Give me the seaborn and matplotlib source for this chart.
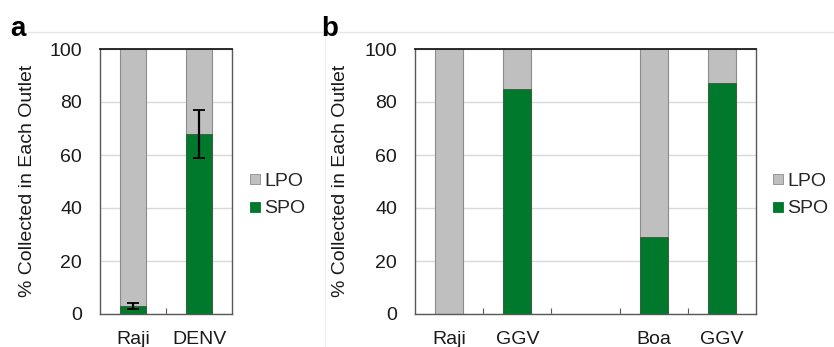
import matplotlib
matplotlib.use("Agg")
import matplotlib.pyplot as plt
import seaborn as sns
import pandas as pd
import numpy as np
from matplotlib.lines import Line2D
from matplotlib.ticker import FixedLocator

sns.set_theme(style="white")
plt.rcParams['font.family'] = ['Liberation Sans', 'DejaVu Sans']

# ---- data ----
a_labels = ["Raji", "DENV"]
a_spo = [3, 68]
a_spo_err = [1, 9]
a_lpo_total = [100, 100]

b_labels = ["Raji", "GGV", "", "Boa", "GGV"]
b_spo = [0, 85, np.nan, 29, 87]
b_lpo_total = [100, 100, np.nan, 100, 100]

GRAY = "#bfbfbf"
GREEN = "#00792c"
EDGE_G = "#8c8c8c"

fig = plt.figure(figsize=(8.34, 3.47), dpi=100)
W, H = 834, 347

def px_axes(l, t, r, b):
    return fig.add_axes([l / W, 1 - b / H, (r - l) / W, (b - t) / H])

ax_a = px_axes(100, 49, 232, 314)
ax_b = px_axes(415, 49, 756, 314)

def draw(ax, labels, spo, lpo, err=None, width=0.4):
    ids = [f"c{i}" for i in range(len(labels))]
    df = pd.DataFrame({"id": ids, "LPO": lpo, "SPO": spo})
    sns.barplot(data=df, x="id", y="LPO", order=ids, color=GRAY, width=width,
                edgecolor=EDGE_G, linewidth=0.8, ax=ax, saturation=1, zorder=2)
    sns.barplot(data=df, x="id", y="SPO", order=ids, color=GREEN, width=width,
                edgecolor="#3a5a3a", linewidth=0.6, ax=ax, saturation=1, zorder=3)
    if err is not None:
        ax.errorbar(np.arange(len(ids)), spo, yerr=err, fmt="none", ecolor="black",
                    elinewidth=1.6, capsize=4, capthick=1.3, zorder=4)
    ax.set_xlim(-0.5, len(ids) - 0.5)
    ax.set_ylim(0, 100)
    ax.set_yticks([0, 20, 40, 60, 80, 100])
    ax.yaxis.grid(True, color="#d9d9d9", linewidth=1.0, zorder=0)
    ax.set_axisbelow(True)
    ax.set_xticks(range(len(ids)))
    ax.set_xticklabels(labels)
    ax.xaxis.set_minor_locator(FixedLocator(np.arange(0.5, len(ids) - 0.5, 1)))
    ax.tick_params(axis="x", which="major", length=0, pad=12, labelsize=14, colors="#1a1a1a")
    ax.tick_params(axis="x", which="minor", length=4, direction="in", width=0.8,
                   color="#595959", bottom=True)
    ax.tick_params(axis="y", length=0, pad=13, labelsize=14, colors="#1a1a1a")
    for s in ax.spines.values():
        s.set_visible(True)
        s.set_color("#595959")
        s.set_linewidth(1.0)
    ax.spines["top"].set_color("#1a1a1a")
    ax.spines["top"].set_linewidth(1.3)
    ax.set_xlabel("")
    ax.set_ylabel("% Collected in Each Outlet", fontsize=14, color="#1a1a1a")
    handles = [
        Line2D([], [], marker="s", linestyle="none", markersize=7.5,
               markerfacecolor=GRAY, markeredgecolor=EDGE_G, markeredgewidth=0.6, label="LPO"),
        Line2D([], [], marker="s", linestyle="none", markersize=7.5,
               markerfacecolor=GREEN, markeredgecolor=GREEN, markeredgewidth=0.6, label="SPO"),
    ]
    return handles

h = draw(ax_a, a_labels, a_spo, a_lpo_total, err=a_spo_err, width=0.4)
draw(ax_b, b_labels, b_spo, b_lpo_total, width=0.41)

for ax, xl in ((ax_a, 248), (ax_b, 771)):
    ax.legend(handles=h, loc="center left", bbox_to_anchor=(xl / W, 1 - 195 / H),
              bbox_transform=fig.transFigure, frameon=False, fontsize=14,
              handletextpad=0.1, labelspacing=0.5, handlelength=0.75, borderpad=0,
              borderaxespad=0)

ax_a.yaxis.set_label_coords(36 / W, 1 - 181 / H, transform=fig.transFigure)
ax_b.yaxis.set_label_coords(349 / W, 1 - 181 / H, transform=fig.transFigure)

# panel separator lines and letters
fig.add_artist(Line2D([28 / W, 1], [1 - 32 / H, 1 - 32 / H], color="#e6e6e6", linewidth=1.0))
fig.add_artist(Line2D([325 / W, 325 / W], [0, 1 - 32 / H], color="#f0f0f0", linewidth=1.0))
fig.text(10 / W, 1 - 36 / H, "a", fontsize=20, fontweight="bold", color="black", va="baseline")
fig.text(321 / W, 1 - 36 / H, "b", fontsize=20, fontweight="bold", color="black", va="baseline")

fig.savefig("out.png", dpi=100)
